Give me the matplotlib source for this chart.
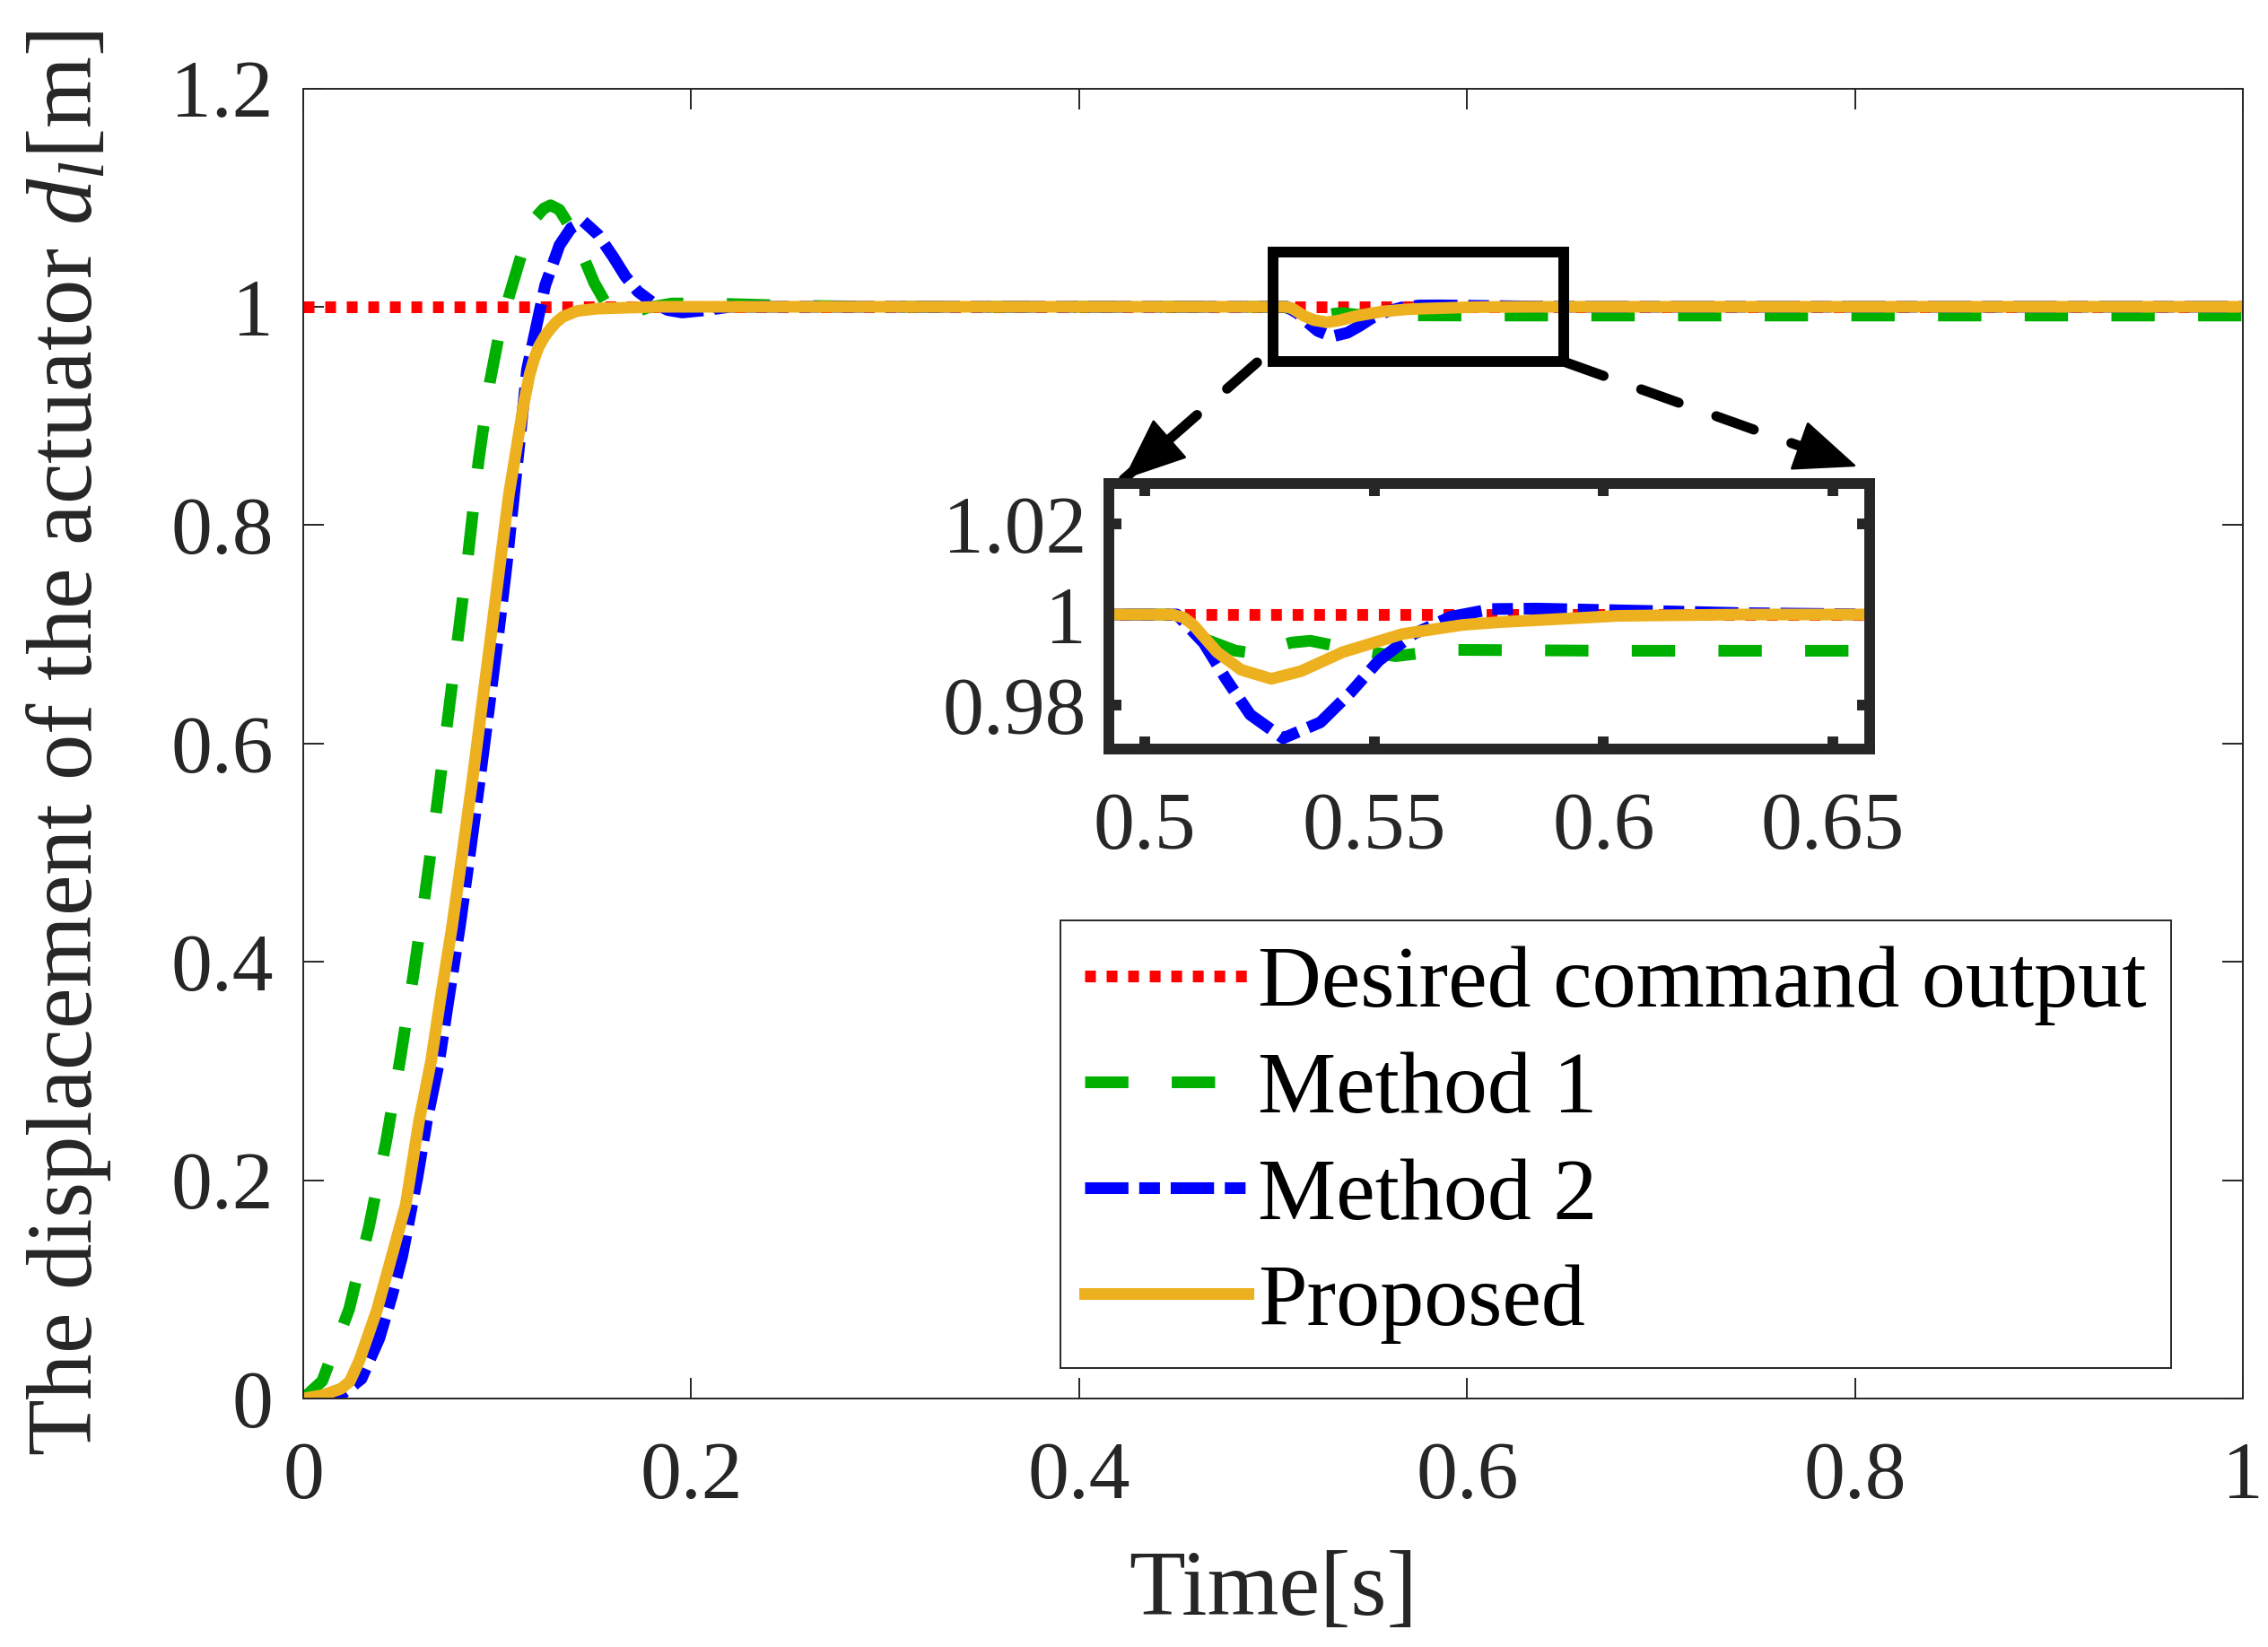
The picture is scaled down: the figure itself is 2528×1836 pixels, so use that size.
import matplotlib
matplotlib.use("Agg")
import matplotlib.pyplot as plt
from matplotlib.patches import Rectangle
from matplotlib.ticker import FormatStrFormatter

# ---------------- data ----------------
t_desired = [0.0, 1.0]
y_desired = [1.0, 1.0]

t_method1 = [0.0, 0.0098, 0.0237, 0.034, 0.0427, 0.050, 0.0569, 0.0631, 0.069, 0.0744,
             0.0798, 0.0852, 0.0904, 0.0962, 0.1010, 0.1059, 0.1125, 0.1194, 0.1240, 0.1275,
             0.1320, 0.1380, 0.1441, 0.1500, 0.1570, 0.1645, 0.1700, 0.1770, 0.1900, 0.2110,
             0.2500, 0.3000, 0.5000, 0.5060, 0.5117, 0.5198, 0.5235, 0.5272, 0.5320, 0.5361,
             0.5420, 0.5547, 0.5660, 0.5850, 0.6000, 0.6500, 1.0]
y_method1 = [0.0, 0.016, 0.082, 0.158, 0.235, 0.311, 0.389, 0.466, 0.544, 0.621,
             0.698, 0.776, 0.859, 0.931, 0.975, 1.0085, 1.048, 1.081, 1.090, 1.093,
             1.089, 1.072, 1.047, 1.022, 1.000, 0.992, 0.994, 0.999, 1.003, 1.003,
             1.001, 1.000, 1.000, 1.000, 0.9951, 0.9920, 0.9915, 0.9925, 0.9938, 0.9942,
             0.9930, 0.9908, 0.9922, 0.9921, 0.9920, 0.9920, 0.9920]

t_method2 = [0.0, 0.010, 0.020, 0.030, 0.0392, 0.0457, 0.0511, 0.0588, 0.0637, 0.0701,
             0.0747, 0.0807, 0.0860, 0.0912, 0.0961, 0.1010, 0.1047, 0.1082, 0.1105, 0.1154,
             0.1200, 0.1247, 0.1321, 0.1380, 0.1444, 0.1520, 0.1599, 0.1660, 0.1725, 0.1800,
             0.1880, 0.1954, 0.2080, 0.2200, 0.5000, 0.5070, 0.5129, 0.5177, 0.5230, 0.5302,
             0.5383, 0.5449, 0.5510, 0.5586, 0.5667, 0.5756, 0.5854, 0.5948, 0.6040, 0.6135,
             0.6300, 0.6600, 1.0]
y_method2 = [0.0, 0.0005, 0.004, 0.018, 0.055, 0.094, 0.131, 0.202, 0.254, 0.309,
             0.363, 0.432, 0.500, 0.569, 0.637, 0.706, 0.761, 0.820, 0.859, 0.9427,
             0.9805, 1.0195, 1.0564, 1.072, 1.0783, 1.066, 1.0454, 1.028, 1.014, 1.004,
             0.997, 0.9948, 0.997, 1.000, 1.000, 1.000, 0.9937, 0.9858, 0.9779, 0.9727,
             0.9762, 0.9828, 0.9898, 0.9957, 0.9995, 1.0012, 1.0013, 1.0011, 1.0009, 1.0007,
             1.0003, 1.000, 1.000]

t_proposed = [0.0, 0.010, 0.0195, 0.024, 0.029, 0.038, 0.047, 0.0528, 0.0597, 0.0659,
              0.0705, 0.0767, 0.0821, 0.0874, 0.0923, 0.0973, 0.1012, 0.1061, 0.1077, 0.1120,
              0.1140, 0.1167, 0.1190, 0.1213, 0.1245, 0.1275, 0.1305, 0.1337, 0.1413, 0.1522,
              0.1830, 0.5000, 0.5060, 0.5085, 0.5106, 0.5158, 0.5210, 0.5276, 0.5341, 0.5432,
              0.5562, 0.5693, 0.5772, 0.6032, 0.6300, 1.0]
y_proposed = [0.0, 0.003, 0.009, 0.0156, 0.035, 0.081, 0.139, 0.177, 0.254, 0.309,
              0.363, 0.432, 0.500, 0.569, 0.637, 0.706, 0.761, 0.829, 0.846, 0.893,
              0.914, 0.938, 0.952, 0.963, 0.973, 0.980, 0.986, 0.9907, 0.9962, 0.9984,
              1.000, 1.000, 1.000, 0.9993, 0.9977, 0.9917, 0.9878, 0.9858, 0.9875, 0.9917,
              0.9957, 0.9977, 0.9983, 0.9997, 1.000, 1.000]

labels = ["Desired command output", "Method 1", "Method 2", "Proposed"]
x_ticks = [0, 0.2, 0.4, 0.6, 0.8, 1.0]
y_ticks = [0, 0.2, 0.4, 0.6, 0.8, 1.0, 1.2]
inset_x_ticks = [0.5, 0.55, 0.6, 0.65]
inset_y_ticks = [0.98, 1.0, 1.02]

# ---------------- style ----------------
plt.rcParams["font.family"] = ["Liberation Serif", "DejaVu Serif"]
plt.rcParams["mathtext.fontset"] = "custom"
plt.rcParams["mathtext.rm"] = "Liberation Serif"
plt.rcParams["mathtext.it"] = "Liberation Serif:italic"

AXC = "#262626"
C_RED = (1.0, 0.0, 0.0)
C_GREEN = (0.0, 0.69, 0.0)
C_BLUE = (0.0, 0.0, 1.0)
C_ORANGE = (0.929, 0.694, 0.125)
LW = 4.7

styles = [
    dict(color=C_RED, lw=LW, linestyle=(0, (0.92, 0.92))),
    dict(color=C_GREEN, lw=LW, linestyle=(0, (3.7, 3.7))),
    dict(color=C_BLUE, lw=LW, linestyle=(0, (3.7, 0.92, 1.77, 0.92))),
    dict(color=C_ORANGE, lw=LW, linestyle="-"),
]
series = [(t_desired, y_desired), (t_method1, y_method1),
          (t_method2, y_method2), (t_proposed, y_proposed)]

DPI = 200
fig = plt.figure(figsize=(2528 / DPI, 1836 / DPI), dpi=DPI)

# ---------------- main axes ----------------
ax = fig.add_axes([0.1337, 0.1509, 0.989 - 0.1337, 0.9463 - 0.1509])
handles = []
for (tt, yy), st, lab in zip(series, styles, labels):
    h, = ax.plot(tt, yy, label=lab, **st)
    handles.append(h)

ax.set_xlim(0, 1)
ax.set_ylim(0, 1.2)
ax.set_xticks(x_ticks)
ax.set_yticks(y_ticks)
ax.xaxis.set_major_formatter(FormatStrFormatter("%g"))
ax.yaxis.set_major_formatter(FormatStrFormatter("%g"))
ax.tick_params(direction="in", length=8.3, width=0.7, colors=AXC, labelsize=33,
               top=True, right=True)
ax.tick_params(axis="x", pad=17)
ax.tick_params(axis="y", pad=12)
for s in ax.spines.values():
    s.set_linewidth(0.7)
    s.set_color(AXC)

ax.set_xlabel("Time[s]", fontsize=37, color=AXC)
ax.set_ylabel("The displacement of the actuator $d_l$[m]", fontsize=37, color=AXC)
ax.xaxis.set_label_coords(0.5, -0.116)
ax.yaxis.set_label_coords(-0.098, 0.5)

# zoom rectangle
ax.add_patch(Rectangle((0.5, 0.95), 0.15, 0.10, fill=False, lw=4.3,
                       edgecolor="black", zorder=6))


def dashed_arrow(start, tip):
    ax.annotate("", xy=tip, xytext=start,
                arrowprops=dict(arrowstyle="-", lw=4.0, linestyle=(0, (4, 4)),
                                color="black", shrinkA=0, shrinkB=0), zorder=6)
    back = (tip[0] + 0.06 * (start[0] - tip[0]), tip[1] + 0.06 * (start[1] - tip[1]))
    ax.annotate("", xy=tip, xytext=back,
                arrowprops=dict(arrowstyle="-|>,head_length=2.3,head_width=0.95",
                                mutation_scale=10, lw=1.0, color="black",
                                shrinkA=0, shrinkB=0), zorder=6)


dashed_arrow((0.4917, 0.949), (0.4229, 0.842))
dashed_arrow((0.651, 0.949), (0.801, 0.8537))

# legend
leg = fig.legend(handles=handles, labels=labels, loc="upper left",
                 bbox_to_anchor=(0.4675, 0.441), bbox_transform=fig.transFigure,
                 fontsize=35.3, frameon=True, fancybox=False, framealpha=1,
                 edgecolor=AXC, borderpad=0.28, handlelength=1.85,
                 handletextpad=0.12, labelspacing=0.29, borderaxespad=0)
leg.get_frame().set_linewidth(0.7)

# ---------------- inset axes ----------------
axi = fig.add_axes([0.4889, 0.5452, 0.8244 - 0.4889, 0.7064 - 0.5452])
for (tt, yy), st in zip(series, styles):
    axi.plot(tt, yy, **st)
axi.set_xlim(0.4922, 0.658)
axi.set_ylim(0.9703, 1.0289)
axi.set_xticks(inset_x_ticks)
axi.set_yticks(inset_y_ticks)
axi.xaxis.set_major_formatter(FormatStrFormatter("%g"))
axi.yaxis.set_major_formatter(FormatStrFormatter("%g"))
axi.tick_params(direction="in", length=5, width=4.3, colors=AXC, labelsize=33,
                top=True, right=True)
axi.tick_params(axis="x", pad=17)
axi.tick_params(axis="y", pad=9)
for s in axi.spines.values():
    s.set_linewidth(4.3)
    s.set_color(AXC)

fig.savefig("out.png", dpi=DPI)
